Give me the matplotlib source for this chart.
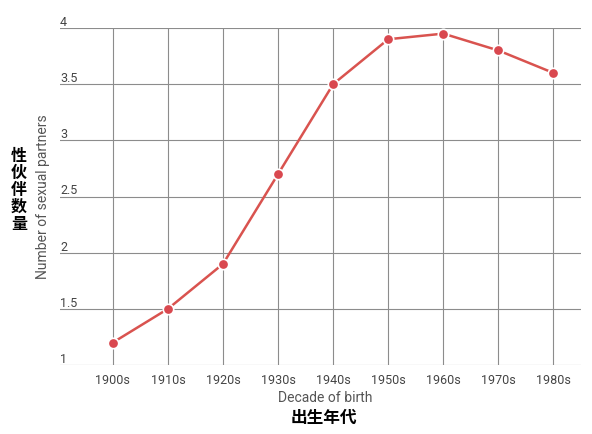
import matplotlib
matplotlib.use("Agg")
import matplotlib.pyplot as plt

plt.rcParams['font.family'] = ['Roboto', 'Noto Sans CJK SC', 'DejaVu Sans']

decades = ["1900s", "1910s", "1920s", "1930s", "1940s", "1950s", "1960s", "1970s", "1980s"]
partners = [1.2, 1.5, 1.9, 2.7, 3.5, 3.9, 3.95, 3.8, 3.6]
y_ticks = [1, 1.5, 2, 2.5, 3, 3.5, 4]
y_tick_labels = ["1", "1.5", "2", "2.5", "3", "3.5", "4"]

fig = plt.figure(figsize=(5.92, 4.35), dpi=100)
ax = fig.add_axes([60 / 592, 1 - 366 / 435, 521 / 592, 337 / 435])

x = list(range(len(decades)))
ax.plot(x, partners, color="#d9534f", lw=1.8, marker="o", markersize=7.5,
        markerfacecolor="#d9484f", markeredgecolor="white", markeredgewidth=1.2,
        zorder=3, clip_on=False)

ax.set_xlim(-0.96, 8.5)
ax.set_ylim(1, 4)
ax.set_xticks(x)
ax.set_xticklabels(decades, fontsize=9, color="#444444")
ax.set_yticks(y_ticks)
ax.set_yticklabels([])
ax.tick_params(axis="both", length=0)
ax.tick_params(axis="x", pad=6)
ax.grid(True, color="#8c8c8c", lw=0.8)
for s in ax.spines.values():
    s.set_visible(False)

for v, lab in zip(y_ticks, y_tick_labels):
    ax.text(0.0, v, lab, transform=ax.get_yaxis_transform(), ha="left", va="bottom",
            fontsize=9, color="#444444")

fig.text(325 / 592, 1 - 398 / 435, "Decade of birth", ha="center", va="center",
         fontsize=10, color="#555555")
fig.text(324 / 592, 1 - 418 / 435, "出生年代", ha="center", va="center",
         fontsize=12, fontweight="bold", color="black")

fig.text(43 / 592, 1 - 197 / 435, "Number of sexual partners", rotation=90,
         ha="center", va="center", fontsize=10, color="#555555")
fig.text(19 / 592, 1 - 190 / 435, "性\n伙\n伴\n数\n量", ha="center", va="center",
         fontsize=11.5, fontweight="bold", color="black", linespacing=1.15)

fig.savefig("out.png", dpi=100)
